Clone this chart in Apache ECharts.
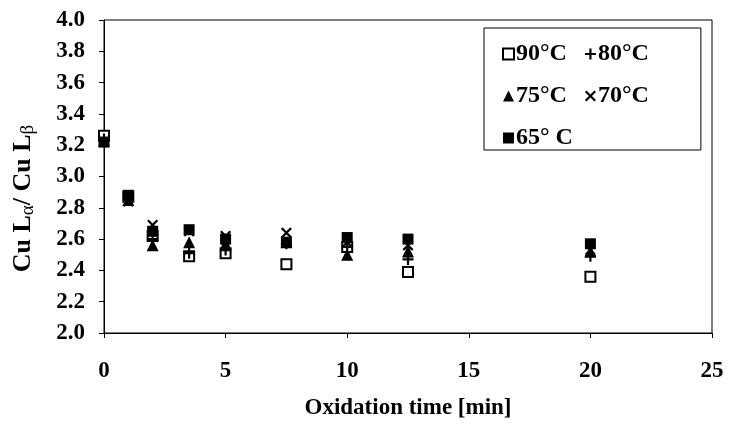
<!DOCTYPE html>
<html>
<head>
<meta charset="utf-8">
<script src="https://cdn.jsdelivr.net/npm/echarts@6/dist/echarts.min.js"></script>
<style>
  html, body { margin: 0; padding: 0; background: #fff; }
  #chart { width: 737px; height: 425px; }
</style>
</head>
<body>
<div id="chart"></div>
<script>
// oxidation time [min]
const times = [0, 1, 2, 3.5, 5, 7.5, 10, 12.5, 20];
// Cu La / Cu Lb ratio per temperature
const t90 = [3.26, 2.87, 2.62, 2.49, 2.51, 2.44, 2.55, 2.39, 2.36];
const t80 = [3.24, 2.86, 2.60, 2.51, 2.53, 2.57, 2.55, 2.47, 2.49];
const t75 = [3.23, 2.85, 2.56, 2.58, 2.57, 2.58, 2.50, 2.52, 2.52];
const t70 = [3.22, 2.84, 2.69, 2.65, 2.62, 2.64, 2.58, 2.56, 2.53];
const t65 = [3.22, 2.88, 2.65, 2.66, 2.60, 2.58, 2.61, 2.60, 2.57];
const seriesNames = ['90°C', '80°C', '75°C', '70°C', '65° C'];

const plusPath = 'path://M4,0h2v4h4v2h-4v4h-2v-4h-4v-2h4z';
const crossPath = 'path://M1.4,0L5,3.6L8.6,0L10,1.4L6.4,5L10,8.6L8.6,10L5,6.4L1.4,10L0,8.6L3.6,5L0,1.4z';

const font = '"Liberation Serif", "Times New Roman", serif';

const chart = echarts.init(document.getElementById('chart'));

function pts(vals) {
  return times.map((t, i) => [t, vals[i]]);
}

function makeSeries(name, vals, symbol, size, style) {
  return {
    name: name,
    type: 'scatter',
    data: pts(vals),
    symbol: symbol,
    symbolSize: size,
    itemStyle: Object.assign({ opacity: 1 }, style),
    emphasis: { disabled: true }
  };
}

chart.setOption({
  animation: false,
  backgroundColor: '#fff',
  grid: {
    left: 102, right: 25, top: 20, bottom: 88,
    show: true, borderColor: '#000', borderWidth: 1
  },
  legend: {
    left: 484, top: 28, width: 200,
    orient: 'horizontal',
    padding: [14, 52, 0, 18],
    itemGap: 18,
    itemWidth: 11, itemHeight: 11,
    borderColor: '#000', borderWidth: 1,
    backgroundColor: '#fff',
    textStyle: { fontFamily: font, fontWeight: 'bold', fontSize: 24, color: '#000', padding: [0, 0, 0, -3] },
    data: seriesNames
  },
  xAxis: {
    type: 'value', min: 0, max: 25, interval: 5,
    name: 'Oxidation time [min]', nameLocation: 'middle', nameGap: 64,
    nameTextStyle: { fontFamily: font, fontWeight: 'bold', fontSize: 23, color: '#000' },
    axisLine: { lineStyle: { color: '#000', width: 1 } },
    axisTick: { show: true, inside: false, length: 5, lineStyle: { color: '#000' } },
    axisLabel: { fontFamily: font, fontWeight: 'bold', fontSize: 23, color: '#000', margin: 27 },
    splitLine: { show: false }
  },
  yAxis: {
    type: 'value', min: 2.0, max: 4.0, interval: 0.2,
    name: '{a|Cu L}{s|α}{a|/ Cu L}{s|β}', nameLocation: 'middle', nameGap: 66, nameRotate: 90,
    nameTextStyle: {
      padding: [0, 44, 0, 0],
      rich: {
        a: { fontFamily: font, fontWeight: 'bold', fontSize: 26, color: '#000', lineHeight: 30 },
        s: { fontFamily: font, fontWeight: 'normal', fontSize: 19, color: '#000', lineHeight: 30, padding: [11, 0, 0, 0] }
      }
    },
    axisLine: { show: true, lineStyle: { color: '#000', width: 1 } },
    axisTick: { show: true, inside: false, length: 5, lineStyle: { color: '#000' } },
    axisLabel: {
      fontFamily: font, fontWeight: 'bold', fontSize: 23, color: '#000', margin: 19,
      formatter: v => v.toFixed(1)
    },
    splitLine: { show: false }
  },
  series: [
    makeSeries(seriesNames[0], t90, 'rect', 10, { color: '#fff', borderColor: '#000', borderWidth: 2 }),
    makeSeries(seriesNames[1], t80, plusPath, 11, { color: '#000' }),
    makeSeries(seriesNames[2], t75, 'triangle', 12, { color: '#000' }),
    makeSeries(seriesNames[3], t70, crossPath, 11, { color: '#000' }),
    makeSeries(seriesNames[4], t65, 'rect', 11, { color: '#000' })
  ]
});
</script>
</body>
</html>
